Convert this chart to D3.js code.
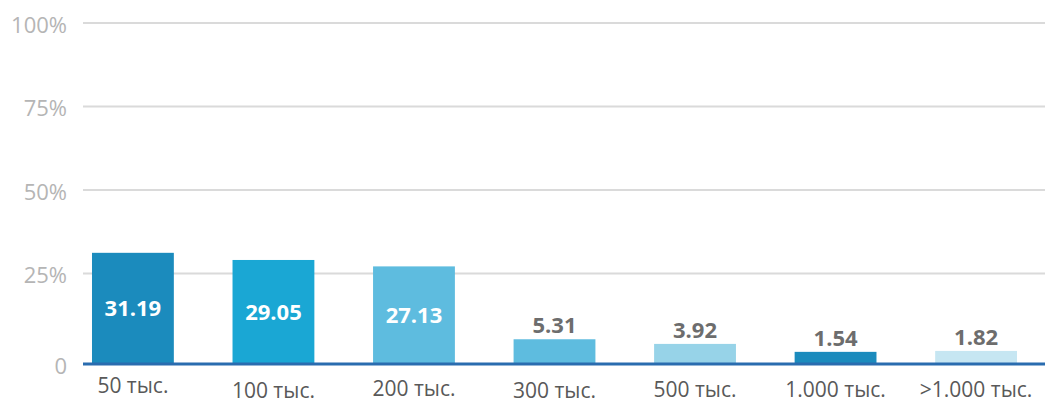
<!DOCTYPE html>
<html>
<head>
<meta charset="utf-8">
<script src="https://cdn.jsdelivr.net/npm/d3@7"></script>
<style>
  html, body { margin: 0; padding: 0; background: #fff; }
  svg { display: block; font-family: "Open Sans", "Noto Sans", sans-serif; }
</style>
</head>
<body>
<svg id="chart" width="1045" height="405"></svg>
<script>
// Income brackets and share of respondents, %
const categories = ["50 тыс.", "100 тыс.", "200 тыс.", "300 тыс.", "500 тыс.", "1.000 тыс.", ">1.000 тыс."];
const values = [31.19, 29.05, 27.13, 5.31, 3.92, 1.54, 1.82];
const barColors = ["#1b8bbd", "#1aa7d4", "#5ebcdf", "#5ebcdf", "#97d3e8", "#1b8bbd", "#c6e6f2"];
const yTicks = [0, 25, 50, 75, 100];
const yTickLabels = ["0", "25%", "50%", "75%", "100%"];

const svg = d3.select("#chart");

const x = d3.scaleBand()
  .domain(categories)
  .range([83, 1026])
  .paddingInner(0.4176)
  .paddingOuter(0.064);

const y = d3.scaleLinear().domain([0, 100]).range([357, 23]);
const baseY = 364;   // axis line sits a little below the zero gridline

// horizontal grid
svg.append("g")
  .selectAll("line")
  .data(yTicks.slice(1))
  .join("line")
  .attr("x1", 83).attr("x2", 1045)
  .attr("y1", d => y(d)).attr("y2", d => y(d))
  .attr("stroke", "#dadada")
  .attr("stroke-width", 2);

// y tick labels
svg.append("g")
  .selectAll("text")
  .data(yTicks)
  .join("text")
  .attr("x", 67)
  .attr("y", d => d === 0 ? baseY + 2 : y(d) + 2)
  .attr("dy", "0.36em")
  .attr("text-anchor", "end")
  .attr("fill", "#b5b5b5")
  .attr("font-size", 22)
  .text((d, i) => yTickLabels[i]);

// bars
svg.append("g")
  .selectAll("rect")
  .data(values)
  .join("rect")
  .attr("x", (d, i) => x(categories[i]))
  .attr("width", x.bandwidth())
  .attr("y", d => y(d))
  .attr("height", d => baseY - y(d))
  .attr("fill", (d, i) => barColors[i]);

// baseline
svg.append("line")
  .attr("x1", 83).attr("x2", 1045)
  .attr("y1", baseY).attr("y2", baseY)
  .attr("stroke", "#2a6caf")
  .attr("stroke-width", 3);

// value labels: inside tall bars, above short ones
svg.append("g")
  .selectAll("text")
  .data(values)
  .join("text")
  .attr("x", (d, i) => x(categories[i]) + x.bandwidth() / 2)
  .attr("y", d => d > 10 ? (y(d) + baseY) / 2 : y(d) - 6)
  .attr("dy", d => d > 10 ? "0.36em" : 0)
  .attr("text-anchor", "middle")
  .attr("font-weight", "bold")
  .attr("font-size", 22)
  .attr("fill", d => d > 10 ? "#ffffff" : "#6d6d6d")
  .text(d => d.toFixed(2));

// category labels, slightly staggered vertically
const labelBaselines = [393, 398, 396, 398, 397, 397, 397];
svg.append("g")
  .selectAll("text")
  .data(categories)
  .join("text")
  .attr("x", d => x(d) + x.bandwidth() / 2)
  .attr("y", (d, i) => labelBaselines[i])
  .attr("text-anchor", "middle")
  .attr("fill", "#595959")
  .attr("font-size", 21)
  .text(d => d);
</script>
</body>
</html>
